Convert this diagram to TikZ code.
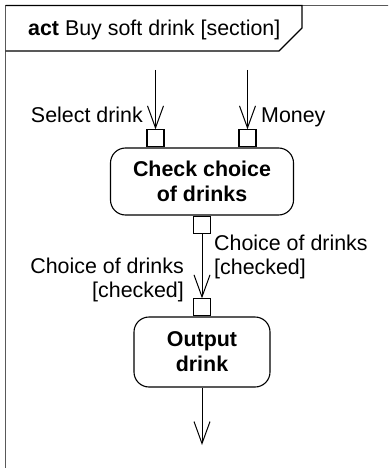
\documentclass[tikz,border=0pt]{standalone}
\usepackage{fontspec}
\setmainfont{Liberation Sans}
\usetikzlibrary{arrows.meta}
\begin{document}
\begin{tikzpicture}[x=1pt,y=-1pt,
  act/.style={draw, rounded corners=15pt, line width=1.1pt, align=center,
    font=\bfseries\fontsize{21.4}{25}\selectfont, inner sep=0pt},
  pin/.style={draw, minimum size=17pt, inner sep=0pt, line width=1.1pt, fill=white},
  flow/.style={line width=1pt, -{Straight Barb[length=22pt,width=16pt,line width=1pt]}},
  lbl/.style={font=\fontsize{21.4}{23.5}\selectfont, inner sep=0pt}
]
\useasboundingbox (0,0) rectangle (388,468);
\begin{scope}
  \clip (0,0) rectangle (388,468);
  \draw[line width=1.6pt, black!65] (392,5.5) -- (5.5,5.5) -- (5.5,472);
\end{scope}
\draw[line width=1.1pt] (5.5,5.5) -- (302,5.5) -- (302,28) -- (279,51) -- (5.5,51);
\node[lbl, anchor=base west] (title) at (28,36) {\textbf{act} Buy soft drink [section]};

\node[act, minimum width=183pt, minimum height=67pt] (check) at (202,181.5) {Check choice\\of drinks};
\node[act, minimum width=136pt, minimum height=70pt] (out) at (202,352) {Output\\drink};

\node[pin, anchor=south] (p1) at ([xshift=-46.5pt]check.north) {};
\node[pin, anchor=south] (p2) at ([xshift=45.5pt]check.north) {};
\node[pin, anchor=north] (p3) at (check.south) {};
\node[pin, anchor=south] (p4) at (out.north) {};

\coordinate (s1) at (155.5,70);
\coordinate (s2) at (247.5,70);
\coordinate (e) at (202,445);

\draw[flow] (s1) -- (p1.north);
\draw[flow] (s2) -- (p2.north);
\draw[flow] (p3.south) -- (p4.north);
\draw[flow] (out.south) -- (e);

\node[lbl, anchor=base east] (l1) at (143,122) {Select drink};
\node[lbl, anchor=base west] (l2) at (261,122) {Money};
\node[lbl, anchor=west, align=left] (l3) at (214,257) {Choice of drinks\\{[checked]}};
\node[lbl, anchor=east, align=right] (l4) at (184,280) {Choice of drinks\\{[checked]}};
\end{tikzpicture}
\end{document}
